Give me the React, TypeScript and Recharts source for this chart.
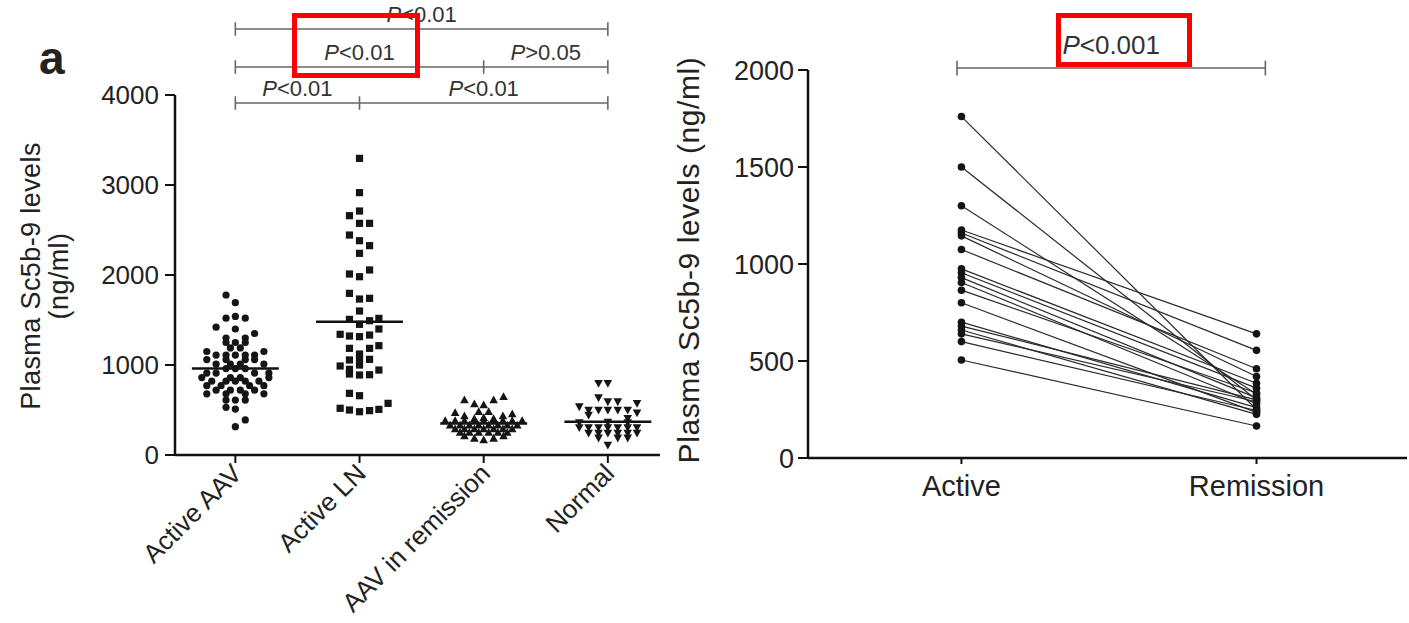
import React from 'react';
import { ScatterChart, Scatter, XAxis, YAxis, ReferenceLine } from 'recharts';

const FONT = '"Liberation Sans", Arial, Helvetica, sans-serif';

// left panel: groups, [x offset from group centre, value]
const groups = ['Active AAV', 'Active LN', 'AAV in remission', 'Normal'];
const leftTicks = [0, 1000, 2000, 3000, 4000];

const activeAAV: [number, number][] = [
  [-0.075, 1778], [0, 1693], [-0.075, 1520], [0, 1540], [0.08, 1520], [-0.155, 1420], [0, 1400], [0.155, 1350],
  [-0.075, 1300], [0.08, 1300], [-0.075, 1250], [0, 1250], [0.08, 1250], [-0.04, 1190], [0.04, 1190],
  [-0.23, 1150], [0.23, 1150], [-0.155, 1110], [-0.075, 1110], [0, 1110], [0.08, 1110], [0.155, 1110],
  [-0.23, 1060], [-0.075, 1060], [0.08, 1060], [0.155, 1060], [-0.155, 1010], [-0.04, 1010], [0.04, 1010], [0.23, 1010],
  [-0.075, 960], [0, 960], [0.08, 960], [-0.23, 910], [-0.155, 910], [0.155, 910], [0.27, 910],
  [-0.27, 860], [-0.04, 860], [0.04, 860], [0.27, 860], [-0.19, 820], [-0.075, 820], [0, 820], [0.08, 820], [0.19, 820],
  [-0.23, 770], [-0.115, 770], [0.115, 770], [0.23, 770], [-0.155, 720], [-0.04, 720], [0.04, 720], [0.155, 720],
  [-0.23, 680], [-0.075, 680], [0.08, 680], [0.23, 680], [-0.075, 610], [0, 610], [0.08, 610],
  [-0.075, 530], [0, 510], [0.08, 390], [0, 315],
];

const activeLN: [number, number][] = [
  [0, 3296], [0, 2915], [0, 2711], [-0.081, 2659], [0, 2574], [0.081, 2574],
  [-0.081, 2444], [0, 2381], [0.081, 2326], [0, 2241], [-0.081, 2011], [0, 1981], [0.081, 2056],
  [-0.081, 1796], [0, 1733], [0.081, 1741], [0, 1600],
  [-0.081, 1507], [0, 1452], [0.081, 1492], [0.156, 1518],
  [-0.156, 1341], [-0.081, 1322], [0, 1315], [0.081, 1333], [0.156, 1400],
  [-0.081, 1185], [0, 1122], [0.081, 1185], [0.156, 1215], [-0.081, 1056], [0, 1074], [0.081, 1063],
  [-0.156, 989], [-0.081, 952], [0, 1000], [0.156, 944], [-0.081, 900], [0, 889], [0.081, 892],
  [-0.081, 685], [0, 659], [-0.156, 519], [-0.081, 500], [0, 481], [0.081, 493], [0.156, 507], [0.23, 574],
];

const aavRemission: [number, number][] = [
  [0.16, 648], [0.08, 611], [-0.155, 611], [-0.075, 567], [0, 556], [-0.23, 470], [-0.155, 433], [-0.04, 481],
  [0.04, 481], [0.155, 433], [0.23, 456], [-0.075, 404], [0, 415], [0.08, 404],
  [-0.31, 380], [-0.23, 380], [-0.155, 380], [-0.075, 380], [0, 380], [0.08, 380], [0.155, 380], [0.23, 380], [0.31, 380],
  [-0.27, 330], [-0.19, 330], [-0.115, 330], [-0.04, 330], [0.04, 330], [0.115, 330], [0.19, 330], [0.27, 330],
  [-0.23, 290], [-0.155, 290], [-0.075, 290], [0, 290], [0.08, 290], [0.155, 290], [0.23, 290],
  [-0.19, 250], [-0.115, 250], [-0.04, 250], [0.04, 250], [0.115, 250], [0.19, 250],
  [-0.075, 185], [0, 167], [0.08, 185], [0.16, 211], [-0.155, 211],
];

const normal: [number, number][] = [
  [-0.075, 796], [0, 796], [-0.075, 637], [0, 593], [0.08, 593], [0.235, 574], [-0.23, 537],
  [-0.155, 500], [-0.075, 500], [0, 500], [0.08, 500], [0.16, 500], [0.235, 470], [-0.155, 444], [0.16, 407],
  [-0.23, 360], [0, 365], [0.16, 360],
  [-0.23, 306], [-0.155, 306], [-0.075, 306], [0, 306], [0.08, 306], [0.16, 306], [0.235, 306],
  [-0.155, 245], [-0.075, 245], [0, 245], [0.08, 245], [0.16, 245], [0.235, 245],
  [-0.075, 190], [0.08, 190], [0.16, 190], [0, 111],
];

const medians = [960, 1480, 350, 370];

// significance brackets (level in ng/ml above the axis, stops are group positions)
const leftBrackets = [
  { level: 4733, stops: [1, 4], labels: ['<0.01'] },
  { level: 4311, stops: [1, 3, 4], labels: ['<0.01', '>0.05'] },
  { level: 3911, stops: [1, 2, 4], labels: ['<0.01', '<0.01'] },
];

// right panel: paired samples
const pairLabels = ['Active', 'Remission'];
const rightTicks = [0, 500, 1000, 1500, 2000];
const pairedActive = [1760, 1500, 1300, 1175, 1160, 1145, 1075, 975, 955, 930, 905, 865, 800, 700, 680, 660, 640, 600, 505];
const pairedRemission = [250, 300, 330, 640, 555, 420, 460, 385, 360, 310, 280, 335, 235, 260, 300, 225, 290, 245, 165];
const rightBracket = { level: 2010, stops: [0.985, 2.03], labels: ['<0.001'] };

const toPoints = (arr: [number, number][], g: number) => arr.map(([dx, v]) => ({ x: g + dx, y: v }));

const Dot = (p: any) => <circle cx={p.cx} cy={p.cy} r={3.6} fill="#151515" />;
const Square = (p: any) => <rect x={p.cx - 3.6} y={p.cy - 3.6} width={7.2} height={7.2} fill="#151515" />;
const TriUp = (p: any) => (
  <path d={`M${p.cx},${p.cy - 4.5} L${p.cx + 4.3},${p.cy + 3.3} L${p.cx - 4.3},${p.cy + 3.3} Z`} fill="#151515" />
);
const TriDown = (p: any) => (
  <path d={`M${p.cx},${p.cy + 4.5} L${p.cx + 4.3},${p.cy - 3.3} L${p.cx - 4.3},${p.cy - 3.3} Z`} fill="#151515" />
);
const PairDot = (p: any) => <circle cx={p.cx} cy={p.cy} r={3.8} fill="#151515" />;

const PLabel = (props: any) => {
  const vb = props.viewBox || {};
  const cx = vb.x + (vb.width || 0) / 2;
  return (
    <text x={cx} y={vb.y - props.gap} textAnchor="middle" fontSize={props.size} fill="#333" fontFamily={FONT}>
      <tspan fontStyle="italic">P</tspan>
      {props.text}
    </text>
  );
};

function bracketLines(b: { level: number; stops: number[]; labels: string[] }, tick: number, size: number, gap: number) {
  const out: React.ReactNode[] = [];
  for (let i = 0; i < b.stops.length - 1; i++) {
    out.push(
      <ReferenceLine
        key={`s${b.level}-${i}`}
        segment={[{ x: b.stops[i], y: b.level }, { x: b.stops[i + 1], y: b.level }]}
        stroke="#666"
        strokeWidth={1.6}
        ifOverflow="visible"
        label={(p: any) => <PLabel {...p} text={b.labels[i]} size={size} gap={gap} />}
      />
    );
  }
  b.stops.forEach((s) => {
    out.push(
      <ReferenceLine
        key={`t${b.level}-${s}`}
        segment={[{ x: s, y: b.level - tick }, { x: s, y: b.level + tick }]}
        stroke="#666"
        strokeWidth={1.6}
        ifOverflow="visible"
      />
    );
  });
  return out;
}

const GroupTick = (p: any) => (
  <g transform={`translate(${p.x + 8},${p.y + 10})`}>
    <text textAnchor="end" transform="rotate(-45)" fontSize={26} fill="#222" fontFamily={FONT}>
      {groups[p.payload.value - 1]}
    </text>
  </g>
);

const LeftYLabel = (p: any) => {
  const vb = p.viewBox;
  const cy = vb.y + vb.height / 2 + 1;
  return (
    <g fontFamily={FONT} fontSize={27} fill="#222" letterSpacing={0.4}>
      <text x={40} y={cy} textAnchor="middle" transform={`rotate(-90, 40, ${cy})`}>Plasma Sc5b-9 levels</text>
      <text x={68} y={cy} textAnchor="middle" transform={`rotate(-90, 68, ${cy})`}>(ng/ml)</text>
    </g>
  );
};

const RightYLabel = (p: any) => {
  const vb = p.viewBox;
  const cy = vb.y + vb.height / 2 - 4;
  return (
    <text x={29} y={cy} textAnchor="middle" transform={`rotate(-90, 29, ${cy})`} fontFamily={FONT} fontSize={30} letterSpacing={0.6} fill="#222">
      Plasma Sc5b-9 levels (ng/ml)
    </text>
  );
};

const axisLine = { stroke: '#111', strokeWidth: 2.5 };
const tickLine = { stroke: '#111', strokeWidth: 2 };

export default function App() {
  return (
    <div style={{ position: 'absolute', left: 0, top: 0, width: 1409, height: 623, overflow: 'hidden', background: '#fff', fontFamily: FONT }}>
      <div style={{ position: 'absolute', left: 0, top: 0 }}>
        <ScatterChart width={670} height={623} margin={{ top: 95, right: 10, bottom: 0, left: 0 }}>
          <XAxis
            type="number"
            dataKey="x"
            domain={[0.514, 4.42]}
            allowDataOverflow
            ticks={[1, 2, 3, 4]}
            height={168}
            tick={<GroupTick />}
            tickSize={8}
            axisLine={axisLine}
            tickLine={tickLine}
          />
          <YAxis
            type="number"
            dataKey="y"
            domain={[0, 4000]}
            allowDataOverflow
            ticks={leftTicks}
            width={175}
            tickSize={10}
            tickMargin={6}
            tick={{ fontSize: 26, fill: '#222', fontFamily: FONT }}
            axisLine={axisLine}
            tickLine={tickLine}
            label={(p: any) => <LeftYLabel {...p} />}
          />
          <Scatter data={toPoints(activeAAV, 1)} shape={Dot} isAnimationActive={false} />
          <Scatter data={toPoints(activeLN, 2)} shape={Square} isAnimationActive={false} />
          <Scatter data={toPoints(aavRemission, 3)} shape={TriUp} isAnimationActive={false} />
          <Scatter data={toPoints(normal, 4)} shape={TriDown} isAnimationActive={false} />
          {medians.map((m, i) => (
            <ReferenceLine
              key={`m${i}`}
              segment={[{ x: i + 1 - 0.35, y: m }, { x: i + 1 + 0.35, y: m }]}
              stroke="#111"
              strokeWidth={2.5}
              ifOverflow="visible"
            />
          ))}
          {leftBrackets.map((b) => bracketLines(b, 75, 22, 7))}
        </ScatterChart>
      </div>

      <div style={{ position: 'absolute', left: 670, top: 0 }}>
        <ScatterChart width={739} height={623} margin={{ top: 70, right: 2, bottom: 0, left: 0 }}>
          <XAxis
            type="number"
            dataKey="x"
            domain={[0.48, 2.51]}
            allowDataOverflow
            ticks={[1, 2]}
            tickFormatter={(v: number) => pairLabels[v - 1]}
            height={165}
            tickSize={6}
            tickMargin={11}
            tick={{ fontSize: 29, fill: '#222', fontFamily: FONT }}
            axisLine={axisLine}
            tickLine={tickLine}
          />
          <YAxis
            type="number"
            dataKey="y"
            domain={[0, 2000]}
            allowDataOverflow
            ticks={rightTicks}
            width={138}
            tickSize={10}
            tickMargin={4}
            tick={{ fontSize: 27, fill: '#222', fontFamily: FONT }}
            axisLine={axisLine}
            tickLine={tickLine}
            label={(p: any) => <RightYLabel {...p} />}
          />
          {pairedActive.map((a, i) => (
            <Scatter
              key={`p${i}`}
              data={[{ x: 1, y: a }, { x: 2, y: pairedRemission[i] }]}
              shape={PairDot}
              line={{ stroke: '#2a2a2a', strokeWidth: 1.2 }}
              isAnimationActive={false}
            />
          ))}
          {bracketLines(rightBracket, 38, 26, 14)}
        </ScatterChart>
      </div>

      <span style={{ position: 'absolute', left: 39, top: 34, fontSize: 46, fontWeight: 'bold', color: '#222', lineHeight: '48px' }}>
        a
      </span>

      <div style={{ position: 'absolute', left: 292, top: 13, width: 128, height: 65, border: '5px solid #f00', boxSizing: 'border-box' }} />
      <div style={{ position: 'absolute', left: 1056, top: 13, width: 136, height: 54, border: '5px solid #f00', boxSizing: 'border-box' }} />
    </div>
  );
}
